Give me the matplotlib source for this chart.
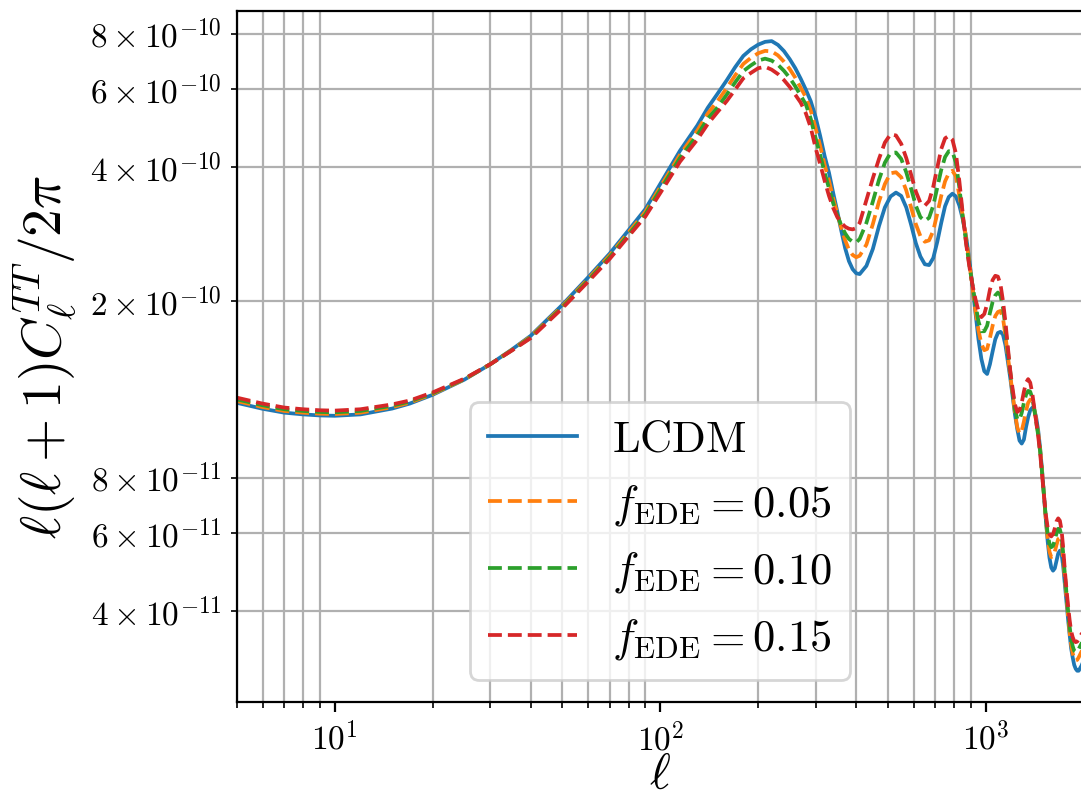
import numpy as np
import matplotlib
matplotlib.use("Agg")
import matplotlib.pyplot as plt
from matplotlib.ticker import FixedLocator, FixedFormatter, NullLocator, LogLocator, NullFormatter

plt.rcParams['mathtext.fontset'] = 'cm'
plt.rcParams['font.family'] = ['cmr10', 'DejaVu Sans']
plt.rcParams['axes.formatter.use_mathtext'] = True

ell = [5, 6, 7, 8, 9, 10, 12, 15, 17, 20, 25, 30, 35, 40, 50, 60, 70, 80, 90, 100,
       115, 130, 140, 150, 160, 170, 180, 190, 200, 210, 220, 230, 240, 250, 260, 270,
       280, 290, 300, 310, 320, 330, 340, 350, 360, 370, 380, 390, 400, 410,
       430, 450, 470, 490, 510, 530, 550, 570, 590, 610, 630, 650, 670, 690, 710,
       730, 750, 770, 790, 810, 830, 850, 870, 890, 910, 930, 950, 970, 990, 1010, 1030,
       1050, 1070, 1090, 1110, 1130, 1150, 1170, 1190, 1210, 1230, 1250, 1270, 1290,
       1310, 1330, 1350, 1370, 1390, 1410, 1430, 1450, 1470, 1490, 1510, 1530, 1550,
       1570, 1590, 1610, 1630, 1650, 1670, 1690, 1710, 1730, 1750, 1770, 1790, 1810,
       1830, 1850, 1870, 1890, 1910, 1930, 1950, 1970, 2000]

# values in units of 1e-10
lcdm = [1.180, 1.144, 1.121, 1.111, 1.105, 1.103, 1.111, 1.145, 1.175, 1.230, 1.330,
        1.440, 1.555, 1.670, 1.960, 2.260, 2.560, 2.890, 3.220, 3.670, 4.360, 4.970,
        5.450, 5.860, 6.280, 6.730, 7.130, 7.380, 7.560, 7.670, 7.700, 7.550, 7.310,
        7.010, 6.690, 6.340, 5.990, 5.640, 5.200, 4.710, 4.240, 3.890, 3.500, 3.180,
        2.880, 2.630, 2.460, 2.360, 2.310, 2.300,
        2.400, 2.620, 2.950, 3.250, 3.440, 3.510, 3.450, 3.250, 2.970, 2.700, 2.520,
        2.420, 2.410, 2.500, 2.720, 3.000, 3.270, 3.430, 3.490, 3.440, 3.280, 3.060,
        2.800, 2.480, 2.170, 1.880, 1.640, 1.480, 1.390, 1.370, 1.440, 1.540, 1.640,
        1.695, 1.705, 1.680, 1.590, 1.460, 1.340, 1.220, 1.110, 1.030, 0.970, 0.955,
        0.975, 1.040, 1.095, 1.135, 1.150, 1.140, 1.090, 1.020, 0.930, 0.830, 0.730,
        0.645, 0.575, 0.528, 0.502, 0.494, 0.500, 0.520, 0.540, 0.548, 0.540, 0.505,
        0.460, 0.420, 0.385, 0.355, 0.330, 0.315, 0.303, 0.297, 0.294, 0.294, 0.298,
        0.302, 0.310]

ede_05 = [1.191, 1.154, 1.131, 1.121, 1.115, 1.113, 1.121, 1.153, 1.181, 1.235, 1.332,
          1.440, 1.552, 1.663, 1.947, 2.242, 2.535, 2.856, 3.175, 3.610, 4.270, 4.840,
          5.290, 5.640, 6.030, 6.450, 6.840, 7.060, 7.230, 7.320, 7.300, 7.150, 6.920,
          6.660, 6.370, 6.050, 5.760, 5.370, 4.910, 4.470, 4.050, 3.730, 3.400, 3.150,
          2.920, 2.740, 2.610, 2.540, 2.510, 2.530,
          2.680, 2.980, 3.350, 3.670, 3.880, 3.900, 3.800, 3.550, 3.250, 2.980, 2.800,
          2.720, 2.740, 2.880, 3.150, 3.450, 3.720, 3.880, 3.930, 3.820, 3.450, 3.100,
          2.780, 2.450, 2.150, 1.900, 1.720, 1.600, 1.550, 1.560, 1.650, 1.760, 1.850,
          1.890, 1.900, 1.830, 1.670, 1.500, 1.360, 1.230, 1.120, 1.040, 1.005, 1.020,
          1.070, 1.130, 1.180, 1.200, 1.190, 1.140, 1.075, 1.005, 0.925, 0.825, 0.730,
          0.645, 0.585, 0.545, 0.530, 0.533, 0.545, 0.565, 0.582, 0.585, 0.570, 0.525,
          0.475, 0.430, 0.392, 0.360, 0.337, 0.322, 0.313, 0.310, 0.311, 0.315, 0.320,
          0.325, 0.332]

ede_10 = [1.201, 1.165, 1.141, 1.131, 1.125, 1.123, 1.131, 1.162, 1.188, 1.240, 1.334,
          1.440, 1.549, 1.656, 1.936, 2.226, 2.513, 2.826, 3.136, 3.560, 4.200, 4.730,
          5.150, 5.460, 5.830, 6.220, 6.590, 6.790, 6.960, 7.030, 6.960, 6.810, 6.600,
          6.360, 6.090, 5.810, 5.550, 5.150, 4.660, 4.270, 3.890, 3.590, 3.320, 3.120,
          2.960, 2.840, 2.760, 2.720, 2.710, 2.760,
          3.000, 3.350, 3.750, 4.100, 4.310, 4.320, 4.180, 3.900, 3.580, 3.280, 3.090,
          3.030, 3.080, 3.280, 3.600, 3.950, 4.220, 4.350, 4.340, 4.100, 3.600, 3.100,
          2.720, 2.420, 2.180, 1.970, 1.800, 1.710, 1.710, 1.760, 1.880, 1.990, 2.060,
          2.090, 2.060, 1.930, 1.740, 1.540, 1.380, 1.245, 1.140, 1.085, 1.080, 1.120,
          1.180, 1.230, 1.255, 1.250, 1.210, 1.140, 1.065, 0.995, 0.915, 0.820, 0.730,
          0.650, 0.597, 0.568, 0.558, 0.562, 0.578, 0.600, 0.614, 0.612, 0.590, 0.540,
          0.485, 0.440, 0.402, 0.370, 0.348, 0.334, 0.326, 0.324, 0.325, 0.329, 0.334,
          0.339, 0.346]

ede_15 = [1.212, 1.175, 1.151, 1.141, 1.135, 1.133, 1.141, 1.170, 1.194, 1.245, 1.337,
          1.440, 1.547, 1.650, 1.925, 2.210, 2.490, 2.800, 3.100, 3.500, 4.120, 4.620,
          5.010, 5.330, 5.640, 5.990, 6.350, 6.530, 6.690, 6.740, 6.640, 6.490, 6.290,
          6.070, 5.830, 5.600, 5.300, 4.920, 4.430, 4.070, 3.730, 3.450, 3.240, 3.090,
          3.000, 2.940, 2.910, 2.900, 2.920, 3.000,
          3.380, 3.780, 4.180, 4.550, 4.750, 4.720, 4.520, 4.200, 3.850, 3.530, 3.330,
          3.280, 3.360, 3.620, 4.000, 4.400, 4.650, 4.710, 4.620, 4.300, 3.720, 3.150,
          2.700, 2.400, 2.180, 2.020, 1.900, 1.840, 1.870, 1.970, 2.120, 2.230, 2.280,
          2.270, 2.180, 2.000, 1.790, 1.570, 1.390, 1.265, 1.170, 1.125, 1.135, 1.180,
          1.250, 1.310, 1.334, 1.310, 1.240, 1.150, 1.065, 0.990, 0.905, 0.810, 0.730,
          0.660, 0.618, 0.597, 0.590, 0.597, 0.615, 0.638, 0.648, 0.640, 0.610, 0.555,
          0.495, 0.450, 0.413, 0.383, 0.361, 0.350, 0.343, 0.341, 0.342, 0.346, 0.351,
          0.356, 0.363]

series = [
    (lcdm, r'$\mathrm{LCDM}$', '-'),
    (ede_05, r'$f_{\rm EDE} = 0.05$', '--'),
    (ede_10, r'$f_{\rm EDE} = 0.10$', '--'),
    (ede_15, r'$f_{\rm EDE} = 0.15$', '--'),
]

ytick_vals = [4e-11, 6e-11, 8e-11, 2e-10, 4e-10, 6e-10, 8e-10]
ytick_labels = [r'$4\times10^{-11}$', r'$6\times10^{-11}$', r'$8\times10^{-11}$',
                r'$2\times10^{-10}$', r'$4\times10^{-10}$', r'$6\times10^{-10}$',
                r'$8\times10^{-10}$']
xtick_vals = [10, 100, 1000]
xtick_labels = [r'$10^{1}$', r'$10^{2}$', r'$10^{3}$']

fig = plt.figure(figsize=(1081 / 200, 798 / 200), dpi=200)
ax = fig.add_axes([0.219, 0.1203, 0.7835, 0.8659])

colors = ['C0', 'C1', 'C2', 'C3']
for (vals, lab, ls), c in zip(series, colors):
    ax.plot(ell, np.array(vals) * 1e-10, ls=ls, color=c, lw=1.35, label=lab)

ax.set_xscale('log')
ax.set_yscale('log')
ax.set_xlim(5, 2000)
ax.set_ylim(2.5e-11, 9e-10)

ax.xaxis.set_major_locator(FixedLocator(xtick_vals))
ax.xaxis.set_major_formatter(FixedFormatter(xtick_labels))
ax.xaxis.set_minor_locator(LogLocator(base=10, subs=np.arange(2, 10)))
ax.xaxis.set_minor_formatter(NullFormatter())

ax.yaxis.set_major_locator(NullLocator())
ax.yaxis.set_minor_locator(FixedLocator(ytick_vals))
ax.yaxis.set_minor_formatter(FixedFormatter(ytick_labels))

ax.tick_params(axis='both', which='both', labelsize=12)
ax.grid(which='minor', color='#b0b0b0', lw=0.8)
ax.set_axisbelow(True)

ax.set_xlabel(r'$\ell$', fontsize=18, labelpad=-1.5)
ax.set_ylabel(r'$\ell(\ell+1)C_\ell^{TT}/2\pi$', fontsize=20)
ax.legend(loc='lower center', fontsize=16)

fig.savefig('out.png', dpi=200)
